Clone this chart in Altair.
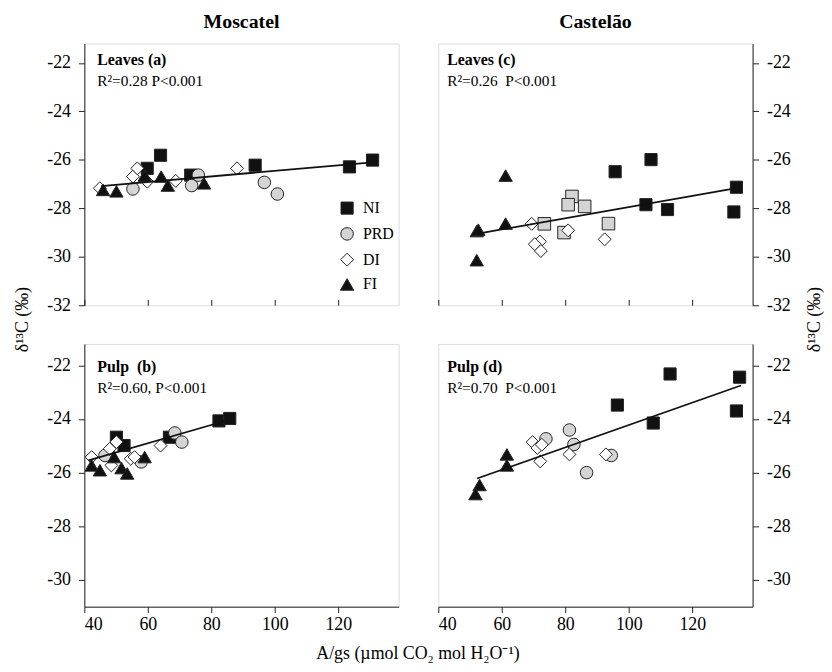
import altair as alt
import pandas as pd

FONT = "Liberation Serif"
TRT = ["NI", "PRD", "DI", "FI"]
X_TICKS = [40, 60, 80, 100, 120]
Y_TICKS_TOP = [-32, -30, -28, -26, -24, -22]
Y_TICKS_BOT = [-30, -28, -26, -24, -22]

# ---- Panel (a) Moscatel leaves ----
a_NI_x = [59.8, 64.0, 73.5, 93.8, 123.5, 130.8]
a_NI_y = [-26.35, -25.81, -26.63, -26.22, -26.29, -26.01]
a_PRD_x = [55.3, 73.8, 75.9, 96.7, 100.8]
a_PRD_y = [-27.2, -27.06, -26.63, -26.93, -27.41]
a_DI_x = [44.9, 55.3, 56.7, 59.8, 68.8, 88.1]
a_DI_y = [-27.17, -26.69, -26.35, -26.9, -26.87, -26.35]
a_FI_x = [45.9, 50.1, 59.0, 64.2, 66.3, 77.7]
a_FI_y = [-27.24, -27.3, -26.65, -26.69, -27.06, -26.97]
a_line_x = [45.3, 130.8]
a_line_y = [-27.08, -26.1]

# ---- Panel (c) Castelão leaves ----
c_NI_x = [95.7, 107.0, 105.4, 112.2, 133.9, 133.1]
c_NI_y = [-26.49, -25.99, -27.85, -28.05, -27.13, -28.15]
c_PRD_x = [82.1, 80.9, 86.1, 73.4, 93.6, 79.6]
c_PRD_y = [-27.51, -27.85, -27.92, -28.64, -28.63, -29.0]
c_DI_x = [69.4, 80.9, 92.4, 72.0, 70.4, 72.3]
c_DI_y = [-28.64, -28.91, -29.28, -29.37, -29.48, -29.76]
c_FI_x = [61.2, 61.2, 52.1, 52.6, 52.1]
c_FI_y = [-26.65, -28.63, -28.94, -28.88, -30.14]
c_line_x = [52.1, 133.9]
c_line_y = [-29.05, -27.17]

# ---- Panel (b) Moscatel pulp ----
b_NI_x = [50.1, 52.5, 66.8, 82.4, 85.8]
b_NI_y = [-24.68, -24.99, -24.68, -24.07, -23.98]
b_PRD_x = [46.5, 57.9, 68.5, 70.7]
b_PRD_y = [-25.36, -25.6, -24.52, -24.86]
b_DI_x = [42.3, 48.0, 50.1, 48.5, 54.6, 55.8, 64.0]
b_DI_y = [-25.42, -25.11, -24.86, -25.73, -25.48, -25.42, -24.99]
b_FI_x = [42.3, 44.9, 49.4, 51.7, 53.5, 59.0]
b_FI_y = [-25.73, -25.91, -25.42, -25.83, -26.03, -25.42]
b_line_x = [41.3, 86.5]
b_line_y = [-25.54, -24.0]

# ---- Panel (d) Castelão pulp ----
d_NI_x = [96.4, 113.0, 134.9, 133.9, 107.7]
d_NI_y = [-23.48, -22.32, -22.44, -23.70, -24.15]
d_PRD_x = [73.9, 81.3, 82.7, 94.5, 86.7]
d_PRD_y = [-24.74, -24.41, -24.95, -25.36, -26.0]
d_DI_x = [69.7, 71.2, 72.6, 72.1, 81.3, 92.8]
d_DI_y = [-24.86, -25.08, -24.96, -25.58, -25.32, -25.32]
d_FI_x = [61.6, 61.6, 53.0, 51.7]
d_FI_y = [-25.32, -25.73, -26.46, -26.80]
d_line_x = [52.2, 135.3]
d_line_y = [-26.22, -22.75]


def points_df(groups):
    rows = []
    for trt, (xs, ys) in zip(TRT, groups):
        for x, y in zip(xs, ys):
            rows.append({"trt": trt, "x": x, "y": y})
    return pd.DataFrame(rows)


W = 317
H_TOP = 264
H_BOT = 265
FILLS = ["#111111", "#d4d4d4", "#ffffff", "#111111"]
STROKES = ["#222222", "#222222", "#222222", "#222222"]
SIZES = [150, 180, 170, 200]


def panel(groups, line_x, line_y, label, stat, ydom, yticks, height,
          right, bottom, shapes, legend=None, ytitle=None, xtitle=None):
    df = points_df(groups)
    xaxis_kw = dict(values=X_TICKS, grid=False, labels=bottom, ticks=True,
                    tickSize=6, tickColor="#222",
                    domainColor="#222", labelFont=FONT, labelFontSize=18,
                    labelColor="black", labelPadding=3)
    if not bottom:
        xaxis_kw.update(offset=-6, domain=False)
    if xtitle:
        xaxis_kw.update(title=xtitle, titleFont=FONT, titleFontSize=18,
                        titleFontWeight="normal", titleColor="black",
                        titleX=336, titleY=47, titleBaseline="middle",
                        titleAlign="center")
    else:
        xaxis_kw.update(title=None)
    yaxis_kw = dict(orient="right" if right else "left", values=yticks,
                    grid=False, tickSize=6, tickColor="#222",
                    domainColor="#222", labelFont=FONT, labelFontSize=18,
                    labelColor="black", labelPadding=8,
                    labelExpr="'' + datum.value")
    if ytitle:
        yaxis_kw.update(title=ytitle, titleFont=FONT, titleFontSize=18,
                        titleFontWeight="normal", titleColor="black",
                        titleAngle=270, titleBaseline="middle",
                        titleAlign="center",
                        titleX=(62 if right else -62), titleY=278)
    else:
        yaxis_kw.update(title=None)

    x = alt.X("x:Q", scale=alt.Scale(domain=[40, 139], nice=False, zero=False),
              axis=alt.Axis(**xaxis_kw))
    y = alt.Y("y:Q", scale=alt.Scale(domain=ydom, nice=False, zero=False),
              axis=alt.Axis(**yaxis_kw))

    pts = alt.Chart(df).mark_point(filled=True, opacity=1,
                                   strokeWidth=1).encode(
        x=x, y=y,
        shape=alt.Shape("trt:N", scale=alt.Scale(domain=TRT, range=shapes),
                        legend=legend),
        fill=alt.Fill("trt:N", scale=alt.Scale(domain=TRT, range=FILLS),
                      legend=legend),
        stroke=alt.Stroke("trt:N", scale=alt.Scale(domain=TRT, range=STROKES),
                          legend=legend),
        size=alt.Size("trt:N", scale=alt.Scale(domain=TRT, range=SIZES),
                      legend=legend),
    )
    ldf = pd.DataFrame({"x": line_x, "y": line_y})
    line = alt.Chart(ldf).mark_line(color="#111", strokeWidth=1.8).encode(
        x="x:Q", y="y:Q")
    xoff = 9 if right else 13
    yoff = 22 if height == H_TOP else 28
    t1 = alt.Chart(pd.DataFrame({"t": [label]})).mark_text(
        align="left", baseline="alphabetic", font=FONT, fontSize=16,
        fontWeight="bold", color="black").encode(
        x=alt.value(xoff), y=alt.value(yoff), text="t:N")
    t2 = alt.Chart(pd.DataFrame({"t": [stat]})).mark_text(
        align="left", baseline="alphabetic", font=FONT, fontSize=15.5,
        color="black").encode(
        x=alt.value(xoff), y=alt.value(yoff + 21), text="t:N")
    return alt.layer(pts, line, t1, t2).properties(width=W, height=height)


leg = alt.Legend(orient="none", legendX=257, legendY=158, title=None,
                 symbolStrokeWidth=1, labelFont=FONT,
                 labelFontSize=16, labelColor="black", rowPadding=8,
                 labelOffset=8, padding=0)

YT = "δ¹³C (‰)"
XT = "A/gs (µmol CO₂ mol H₂O⁻¹)"
SH = ["square", "circle", "diamond", "triangle-up"]
SH_C = ["square", "square", "diamond", "triangle-up"]

TITLE_KW = dict(font=FONT, fontSize=20, fontWeight="bold", color="black",
                anchor="middle", offset=12)

pa = panel([(a_NI_x, a_NI_y), (a_PRD_x, a_PRD_y), (a_DI_x, a_DI_y), (a_FI_x, a_FI_y)],
           a_line_x, a_line_y, "Leaves (a)", "R²=0.28 P<0.001",
           [-32, -21.2], Y_TICKS_TOP, H_TOP, False, False, SH, legend=leg,
           ytitle=YT).properties(title=alt.TitleParams("Moscatel", **TITLE_KW))
pc = panel([(c_NI_x, c_NI_y), (c_PRD_x, c_PRD_y), (c_DI_x, c_DI_y), (c_FI_x, c_FI_y)],
           c_line_x, c_line_y, "Leaves (c)", "R²=0.26\u00a0 P<0.001",
           [-32, -21.2], Y_TICKS_TOP, H_TOP, True, False, SH_C, legend=None,
           ytitle=YT).properties(title=alt.TitleParams("Castelão", **TITLE_KW))
pb = panel([(b_NI_x, b_NI_y), (b_PRD_x, b_PRD_y), (b_DI_x, b_DI_y), (b_FI_x, b_FI_y)],
           b_line_x, b_line_y, "Pulp\u00a0 (b)", "R²=0.60, P<0.001",
           [-31, -21.2], Y_TICKS_BOT, H_BOT, False, True, SH, legend=None,
           xtitle=XT)
pd_ = panel([(d_NI_x, d_NI_y), (d_PRD_x, d_PRD_y), (d_DI_x, d_DI_y), (d_FI_x, d_FI_y)],
            d_line_x, d_line_y, "Pulp (d)", "R²=0.70\u00a0 P<0.001",
            [-31, -21.2], Y_TICKS_BOT, H_BOT, True, True, SH, legend=None)

chart = alt.concat(pa, pc, pb, pd_, columns=2,
                   spacing={"row": 39, "column": 40}, bounds="flush",
                   padding={"left": 5, "top": 0, "right": 0, "bottom": 0}).resolve_scale(
    shape="independent", fill="independent", stroke="independent",
    size="independent", x="independent", y="independent"
).configure_view(stroke="#222", strokeWidth=1).configure(background="white")

chart.save("out.html", embed_options={"renderer": "svg", "actions": False})
